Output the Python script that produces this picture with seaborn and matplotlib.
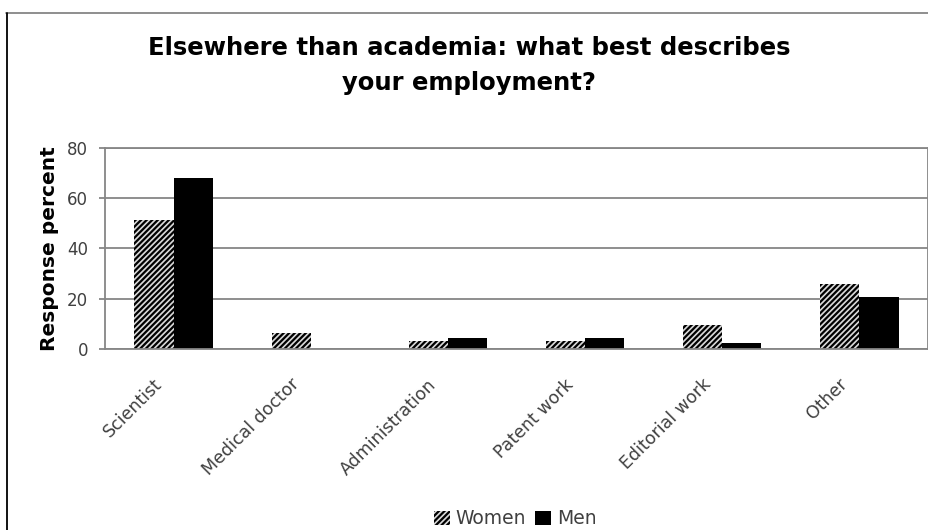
import matplotlib
matplotlib.use("Agg")
import matplotlib.pyplot as plt
import matplotlib.transforms as mtransforms
import seaborn as sns
import pandas as pd
from matplotlib.lines import Line2D

categories = ["Scientist", "Medical doctor", "Administration", "Patent work", "Editorial work", "Other"]
women = [51.5, 6.5, 3.2, 3.2, 9.7, 25.8]
men = [68.1, 0.0, 4.4, 4.4, 2.4, 20.7]
yticks = [0, 20, 40, 60, 80]
title = "Elsewhere than academia: what best describes\nyour employment?"

df = pd.DataFrame({
    "category": categories * 2,
    "value": women + men,
    "group": ["Women"] * len(categories) + ["Men"] * len(categories),
})

sns.set_theme(style="white")
plt.rcParams["font.family"] = ["DejaVu Sans"]
plt.rcParams["hatch.linewidth"] = 1.6
plt.rcParams["hatch.color"] = "black"

fig = plt.figure(figsize=(9.29, 5.30), dpi=100)
ax = fig.add_axes([105 / 929, 1 - 349 / 530, (928 - 105) / 929, (349 - 148) / 530])

sns.barplot(data=df, x="category", y="value", hue="group", order=categories,
            hue_order=["Women", "Men"], palette={"Women": "#d9d9d9", "Men": "black"},
            width=0.57, gap=0, ax=ax, legend=False, saturation=1)

for p in ax.containers[0]:
    p.set_hatch("//////")
    p.set_edgecolor("black")
    p.set_linewidth(0)
for p in ax.containers[1]:
    p.set_linewidth(0)

ax.set_ylim(0, 80)
ax.set_yticks(yticks)
ax.yaxis.grid(True, color="#868686", linewidth=1.3)
ax.set_axisbelow(True)
for s in ax.spines.values():
    s.set_color("#868686")
    s.set_linewidth(1.3)
ax.tick_params(axis="y", which="both", left=True, length=4, width=1.3, color="#868686",
               labelsize=12, labelcolor="#404040", pad=8)
ax.tick_params(axis="x", bottom=False, labelsize=12.5, labelcolor="#404040", pad=13)
offset = mtransforms.ScaledTranslation(-8 / 100, 0, fig.dpi_scale_trans)
for lab in ax.get_xticklabels():
    lab.set_rotation(45)
    lab.set_ha("right")
    lab.set_va("top")
    lab.set_transform(lab.get_transform() + offset)
ax.set_xlabel("")
ax.set_ylabel("Response percent", fontsize=14.5, fontweight="bold", color="black", labelpad=6)

fig.text(0.505, 1 - 65.5 / 530, title, ha="center", va="center", fontsize=17.5,
         fontweight="bold", linespacing=1.55, color="black")

ax.legend(handles=[ax.containers[0], ax.containers[1]], labels=["Women", "Men"],
          loc="center", bbox_to_anchor=(515 / 929, 1 - 519 / 530), bbox_transform=fig.transFigure,
          ncol=2, frameon=False, fontsize=13.5, handlelength=0.85, handleheight=0.85,
          handletextpad=0.3, columnspacing=0.5, labelcolor="#404040")

fig.add_artist(Line2D([6 / 929, 1], [1 - 12.5 / 530, 1 - 12.5 / 530], color="#868686",
                      linewidth=1.3, transform=fig.transFigure))
fig.add_artist(Line2D([7 / 929, 7 / 929], [0, 1 - 12.5 / 530], color="black",
                      linewidth=1.3, transform=fig.transFigure))

fig.savefig("out.png", dpi=100)
